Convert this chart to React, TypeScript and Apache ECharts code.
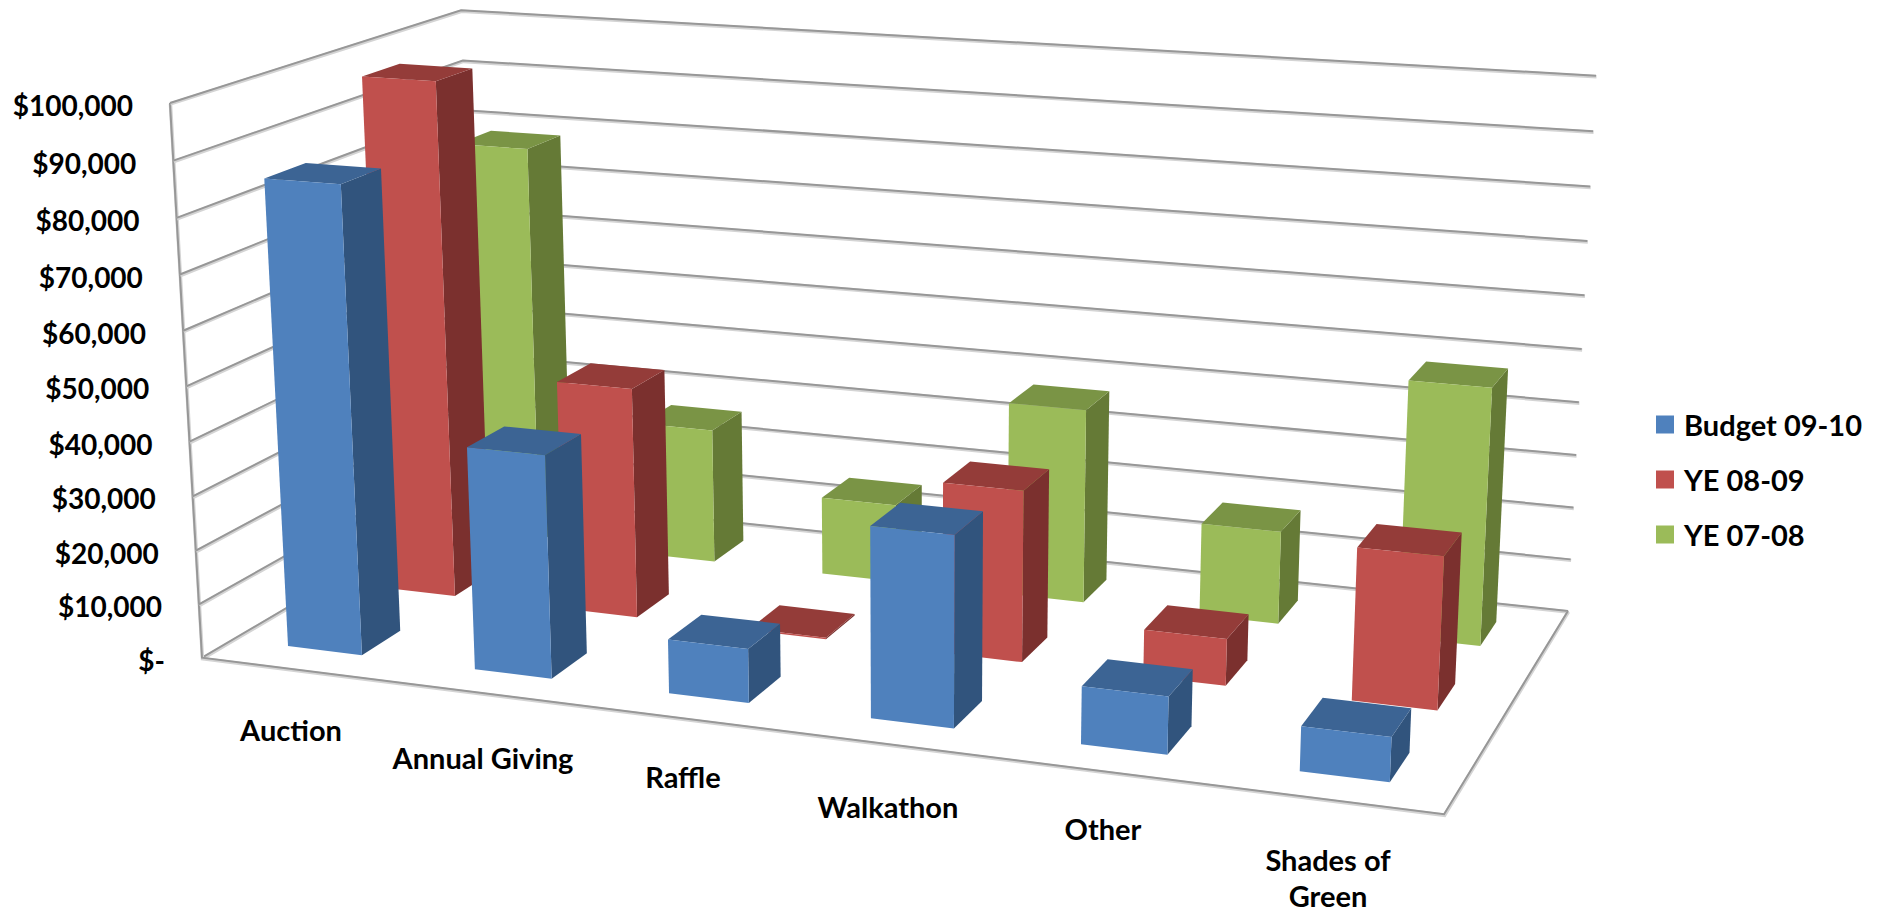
import React, { useEffect, useRef } from "react";
import * as echarts from "echarts";

const categories = ["Auction", "Annual Giving", "Raffle", "Walkathon", "Other", "Shades of\nGreen"];
const tickValues = [0, 10000, 20000, 30000, 40000, 50000, 60000, 70000, 80000, 90000, 100000];
const budget0910 = [85600, 40700, 9800, 34100, 10200, 7800];
const ye0809 = [97500, 43500, 300, 31700, 8600, 27600];
const ye0708 = [78500, 26300, 15100, 37100, 17600, 48000];

// Where the corners of the 3D box fall in the picture: [u, v, w] -> [x, y]
type P = [number, number];
const CORNERS: [number, number, number, number, number][] = [
  [0, 0, 0, 202, 657],
  [1, 0, 0, 1444, 815],
  [1, 1, 0, 1568, 610],
  [0, 1, 0, 478, 496],
  [0, 0, 1, 170, 103],
  [1, 1, 1, 1596, 76],
  [0, 1, 1, 461, 10],
];
const LABEL_CENTER: P[] = [[291, 729], [483, 757], [683, 776], [888, 806], [1103, 828], [1328, 841]];
const FONT = "Lato";

// Least-squares projective camera through the corners
function fitCamera(): number[] {
  const A: number[][] = Array.from({ length: 11 }, () => new Array(12).fill(0));
  const add = (r: number[], b: number) => {
    for (let i = 0; i < 11; i++) {
      for (let j = 0; j < 11; j++) A[i][j] += r[i] * r[j];
      A[i][11] += r[i] * b;
    }
  };
  for (const [u, v, w, x0, y0] of CORNERS) {
    const x = x0 / 1000, y = y0 / 1000;
    add([u, v, w, 1, 0, 0, 0, 0, -x * u, -x * v, -x * w], x);
    add([0, 0, 0, 0, u, v, w, 1, -y * u, -y * v, -y * w], y);
  }
  for (let c = 0; c < 11; c++) {
    let p = c;
    for (let r = c + 1; r < 11; r++) if (Math.abs(A[r][c]) > Math.abs(A[p][c])) p = r;
    [A[c], A[p]] = [A[p], A[c]];
    for (let r = 0; r < 11; r++) {
      if (r === c) continue;
      const f = A[r][c] / A[c][c];
      for (let k = c; k < 12; k++) A[r][k] -= f * A[c][k];
    }
  }
  return A.map((row, i) => row[11] / row[i]);
}
const CAM = fitCamera();
function project(u: number, v: number, w: number): P {
  const d = CAM[8] * u + CAM[9] * v + CAM[10] * w + 1;
  return [
    (1000 * (CAM[0] * u + CAM[1] * v + CAM[2] * w + CAM[3])) / d,
    (1000 * (CAM[4] * u + CAM[5] * v + CAM[6] * w + CAM[7])) / d,
  ];
}

const GRID = { left: 100, top: 100, width: 600, height: 500 };
const toU = (px: number) => (px - GRID.left) / GRID.width;
const toW = (py: number) => (GRID.top + GRID.height - py) / GRID.height;

function barSeries(name: string, values: number[], row: number, c: { front: string; side: string; top: string }) {
  return {
    type: "custom",
    name,
    silent: true,
    coordinateSystem: "cartesian2d",
    itemStyle: { color: c.front },
    encode: { x: 0, y: 1 },
    data: values.map((val, i) => [i, val]),
    renderItem: (_: any, api: any) => {
      const pt = api.coord([api.value(0), api.value(1)]);
      const hw = api.size([1, 0])[0] * 0.2;
      const u0 = toU(pt[0] - hw), u1 = toU(pt[0] + hw), w = toW(pt[1]);
      const v0 = (row + 0.3) / 3, v1 = (row + 0.7) / 3;
      const poly = (pts: P[], fill: string) => ({ type: "polygon", shape: { points: pts }, style: { fill }, silent: true });
      return {
        type: "group",
        children: [
          poly([project(u1, v0, 0), project(u1, v1, 0), project(u1, v1, w), project(u1, v0, w)], c.side),
          poly([project(u0, v0, w), project(u1, v0, w), project(u1, v1, w), project(u0, v1, w)], c.top),
          poly([project(u0, v0, 0), project(u1, v0, 0), project(u1, v0, w), project(u0, v0, w)], c.front),
        ],
      };
    },
  };
}

function rough(pts: P[]) {
  return [
    { type: "polyline", shape: { points: pts.map((p) => [p[0] + 0.5, p[1] + 1]) }, style: { stroke: "#d4d4d4", lineWidth: 3.5, fill: "none" }, silent: true },
    { type: "polyline", shape: { points: pts }, style: { stroke: "#979797", lineWidth: 2, fill: "none" }, silent: true },
  ];
}

function buildOption() {
  return {
    animation: false,
    backgroundColor: "#fff",
    grid: { ...GRID },
    xAxis: { type: "category", data: categories, show: false },
    yAxis: { type: "value", min: 0, max: 100000, interval: 10000, show: false },
    legend: {
      orient: "vertical",
      left: 1651,
      top: 405,
      icon: "rect",
      itemWidth: 18,
      itemHeight: 18,
      itemGap: 26,
      data: ["Budget 09-10", "YE 08-09", "YE 07-08"],
      textStyle: { fontFamily: FONT, fontWeight: "bold", fontSize: 29, color: "#000", padding: [0, 0, 0, 5] },
    },
    series: [
      {
        type: "custom",
        name: "walls",
        silent: true,
        coordinateSystem: "cartesian2d",
        encode: { x: 0, y: 1 },
        data: tickValues.map((t) => [0, t]),
        renderItem: (_: any, api: any) => {
          const w = toW(api.coord([0, api.value(1)])[1]);
          const kids: any[] = [...rough([project(0, 0, w), project(0, 1, w), project(1, 1, w)])];
          if (w === 0) {
            kids.push(...rough([project(1, 1, 0), project(1, 0, 0), project(0, 0, 0), project(0, 0, 1)]));
          }
          return { type: "group", children: kids };
        },
      },
      barSeries("YE 07-08", ye0708, 2, { front: "#9bbb59", side: "#657a36", top: "#7a9445" }),
      barSeries("YE 08-09", ye0809, 1, { front: "#c0504d", side: "#7b302e", top: "#943c39" }),
      barSeries("Budget 09-10", budget0910, 0, { front: "#4f81bd", side: "#31547d", top: "#3c6494" }),
      {
        type: "custom",
        name: "value labels",
        silent: true,
        coordinateSystem: "cartesian2d",
        encode: { x: 0, y: 1 },
        data: tickValues.map((t) => [0, t]),
        renderItem: (_: any, api: any) => {
          const t = api.value(1);
          const p = project(0, 0, toW(api.coord([0, t])[1]));
          return {
            type: "text",
            silent: true,
            style: {
              x: p[0] - 37,
              y: p[1] + 2,
              text: t === 0 ? "$-" : "$" + t.toLocaleString("en-US"),
              align: "right",
              verticalAlign: "middle",
              fontFamily: FONT,
              fontWeight: "bold",
              fontSize: 28,
              fill: "#000",
            },
          };
        },
      },
      {
        type: "custom",
        name: "category labels",
        silent: true,
        coordinateSystem: "cartesian2d",
        encode: { x: 0, y: 1 },
        data: categories.map((_, i) => [i, 0]),
        renderItem: (_: any, api: any) => {
          const i = api.value(0);
          const multi = categories[i].includes("\n");
          return {
            type: "text",
            silent: true,
            style: {
              x: LABEL_CENTER[i][0],
              y: LABEL_CENTER[i][1],
              text: categories[i],
              align: "center",
              verticalAlign: multi ? "top" : "middle",
              fontFamily: FONT,
              fontWeight: "bold",
              fontSize: 29,
              lineHeight: 36,
              fill: "#000",
            },
          };
        },
      },
    ],
  };
}

export default function App() {
  const ref = useRef<HTMLDivElement>(null);
  useEffect(() => {
    document.body.style.margin = "0";
    const chart = echarts.init(ref.current!, undefined, { renderer: "svg" });
    chart.setOption(buildOption() as any);
    return () => chart.dispose();
  }, []);
  return <div ref={ref} style={{ width: 1877, height: 913 }} />;
}
